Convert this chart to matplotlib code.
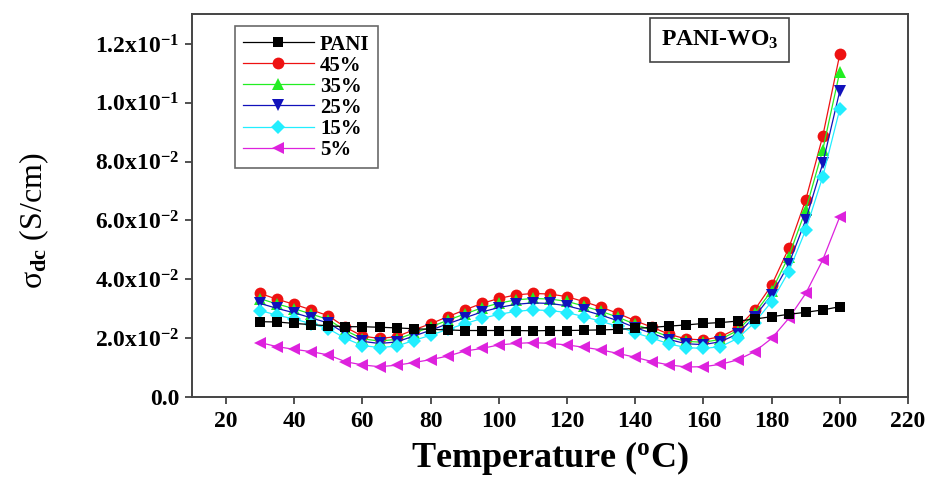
import matplotlib
matplotlib.use("Agg")
import matplotlib.pyplot as plt
from matplotlib.ticker import FixedLocator, FixedFormatter

plt.rcParams['font.family'] = ['Liberation Serif', 'DejaVu Serif']
plt.rcParams['font.weight'] = 'bold'
plt.rcParams['mathtext.fontset'] = 'custom'
plt.rcParams['mathtext.rm'] = 'Liberation Serif:bold'
plt.rcParams['mathtext.bf'] = 'Liberation Serif:bold'
plt.rcParams['mathtext.it'] = 'Liberation Serif:italic'

temperature = [30, 35, 40, 45, 50, 55, 60, 65, 70, 75, 80, 85, 90, 95, 100, 105, 110,
               115, 120, 125, 130, 135, 140, 145, 150, 155, 160, 165, 170, 175, 180,
               185, 190, 195, 200]

pani = [.0256, .0255, .0250, .0246, .0242, .0239, .0239, .0237, .0235, .0232, .0230,
        .0228, .0226, .0226, .0226, .0226, .0225, .0226, .0226, .0227, .0228, .0230,
        .0233, .0237, .0241, .0245, .0250, .0253, .0258, .0265, .0273, .0281, .0288,
        .0296, .0307]
pct45 = [.0352, .0332, .0315, .0296, .0276, .0237, .0207, .0199, .0205, .0228, .0249,
         .0273, .0296, .0318, .0335, .0347, .0352, .0350, .0341, .0324, .0305, .0284,
         .0259, .0237, .0213, .0197, .0194, .0205, .0233, .0296, .0380, .0505, .0670,
         .0887, .1165]
pct35 = [.0334, .0316, .0300, .0282, .0263, .0226, .0198, .0190, .0196, .0217, .0238,
         .0261, .0282, .0303, .0319, .0330, .0335, .0333, .0325, .0309, .0291, .0271,
         .0247, .0226, .0204, .0189, .0186, .0196, .0226, .0284, .0361, .0477, .0636,
         .0840, .1106]
pct25 = [.0318, .0301, .0286, .0269, .0251, .0216, .0189, .0182, .0187, .0207, .0227,
         .0249, .0269, .0289, .0304, .0315, .0320, .0318, .0310, .0295, .0278, .0259,
         .0236, .0216, .0195, .0181, .0178, .0188, .0214, .0273, .0347, .0451, .0602,
         .0794, .1041]
pct15 = [.0294, .0278, .0265, .0249, .0232, .0199, .0175, .0168, .0173, .0192, .0210,
         .0230, .0249, .0267, .0281, .0291, .0296, .0294, .0287, .0273, .0257, .0240,
         .0218, .0200, .0180, .0168, .0165, .0171, .0199, .0253, .0324, .0426, .0568,
         .0749, .0979]
pct5 = [.0185, .0171, .0162, .0154, .0143, .0120, .0109, .0103, .0108, .0117, .0127,
        .0139, .0156, .0165, .0177, .0182, .0185, .0182, .0177, .0169, .0160, .0148,
        .0135, .0120, .0109, .0102, .0103, .0111, .0126, .0154, .0199, .0267, .0352,
        .0466, .0613]

series_labels = ['PANI', '45%', '35%', '25%', '15%', '5%']
series_values = [pani, pct45, pct35, pct25, pct15, pct5]

x_ticks = [20, 40, 60, 80, 100, 120, 140, 160, 180, 200, 220]
y_ticks = [0.0, 0.02, 0.04, 0.06, 0.08, 0.10, 0.12]
y_tick_labels = ['0.0', '2.0x10$^{-2}$', '4.0x10$^{-2}$', '6.0x10$^{-2}$',
                 '8.0x10$^{-2}$', '1.0x10$^{-1}$', '1.2x10$^{-1}$']

colors = ['#000000', '#ee1111', '#22ee22', '#1111bb', '#22eeff', '#dd22dd']
markers = ['s', 'o', '^', 'v', 'D', '<']
sizes = [7, 8.5, 8.5, 8.5, 7, 8.5]
zorders = [8, 3, 4, 5, 6, 7]

fig = plt.figure(figsize=(9.33, 4.79), dpi=100)
ax = fig.add_axes([0.2058, 0.1712, 0.9732 - 0.2058, 0.9708 - 0.1712])

for lab, vals, c, m, s, z in zip(series_labels, series_values, colors, markers, sizes, zorders):
    ax.plot(temperature, vals, color=c, marker=m, markersize=s, linewidth=0.9,
            markeredgewidth=0, label=lab, zorder=z)

ax.set_xlim(10, 220)
ax.set_ylim(0, 0.1302)
ax.xaxis.set_major_locator(FixedLocator(x_ticks))
ax.yaxis.set_major_locator(FixedLocator(y_ticks))
ax.yaxis.set_major_formatter(FixedFormatter(y_tick_labels))
ax.tick_params(axis='both', direction='out', length=5, width=1.2, labelsize=17,
               top=False, right=False, colors='#333333', labelcolor='black')
ax.tick_params(axis='x', pad=5)
ax.tick_params(axis='y', pad=4)
for lbl in ax.get_xticklabels() + ax.get_yticklabels():
    lbl.set_fontweight('bold')
for sp in ax.spines.values():
    sp.set_linewidth(1.4)
    sp.set_color('#444444')

ax.set_xlabel('Temperature ($^{\\mathrm{o}}$C)', fontsize=26, fontweight='bold')
ax.xaxis.label.set_verticalalignment('baseline')
ax.xaxis.set_label_coords(0.5, -0.183)
ax.set_ylabel('σ$_{\\mathrm{dc}}$ (S/cm)', fontsize=23, fontweight='normal')
ax.yaxis.set_label_coords(-0.197, 0.46)

leg = ax.legend(loc='upper left', bbox_to_anchor=(0.045, 0.995), frameon=True, fancybox=False,
                prop={'family': 'Liberation Serif', 'weight': 'bold', 'size': 15},
                handlelength=3.4, handletextpad=0.3, labelspacing=0.05, borderpad=0.4)
leg.get_frame().set_edgecolor('#444444')
leg.get_frame().set_linewidth(1.2)

ax.text(0.737, 0.932, 'PANI-WO$_{\\mathrm{3}}$', transform=ax.transAxes, ha='center', va='center',
        fontsize=17, fontweight='bold',
        bbox=dict(boxstyle='square,pad=0.45', facecolor='white', edgecolor='#444444', linewidth=1.2))

fig.savefig('out.png', dpi=100)
